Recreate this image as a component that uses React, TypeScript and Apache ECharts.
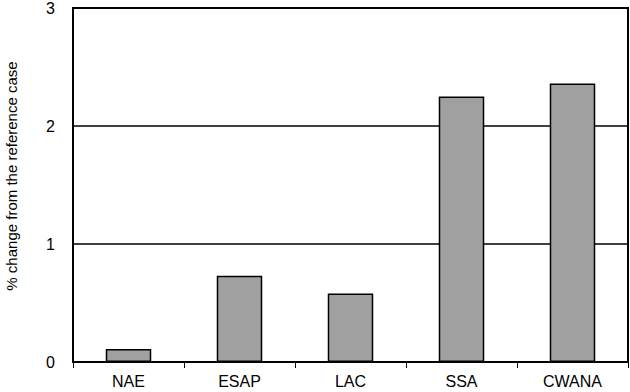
import React, { useEffect, useRef } from "react";
import * as echarts from "echarts";

const categories = ["NAE", "ESAP", "LAC", "SSA", "CWANA"];
const values = [0.11, 0.73, 0.58, 2.25, 2.36];
const yTicks = [0, 1, 2, 3];
const yTitle = "% change from the reference case";

export default function App() {
  const ref = useRef<HTMLDivElement>(null);
  useEffect(() => {
    const chart = echarts.init(ref.current!, null, { renderer: "svg" });
    chart.setOption({
      animation: false,
      backgroundColor: "#ffffff",
      textStyle: { fontFamily: "Liberation Sans, Arial, sans-serif" },
      grid: {
        left: 73,
        right: 2,
        top: 8,
        bottom: 30,
        show: true,
        borderColor: "#000",
        borderWidth: 2,
        backgroundColor: "transparent",
      },
      graphic: [
        {
          type: "text",
          x: 11,
          y: 176,
          rotation: Math.PI / 2,
          style: {
            text: yTitle,
            fill: "#000",
            fontSize: 15,
            fontFamily: "Liberation Sans, Arial, sans-serif",
            align: "center",
            verticalAlign: "middle",
          },
        },
      ],
      xAxis: {
        type: "category",
        data: categories,
        axisLine: { show: true, lineStyle: { color: "#000", width: 2 } },
        axisTick: { show: true, alignWithLabel: false, length: 6, lineStyle: { color: "#000", width: 1 } },
        axisLabel: { color: "#000", fontSize: 16, margin: 11 },
        splitLine: { show: false },
      },
      yAxis: {
        type: "value",
        min: yTicks[0],
        max: yTicks[yTicks.length - 1],
        interval: 1,
        axisLine: { show: true, lineStyle: { color: "#000", width: 2 } },
        axisTick: { show: false },
        axisLabel: { color: "#000", fontSize: 16, margin: 18 },
        splitLine: { show: true, lineStyle: { color: "#000", width: 1.5 } },
      },
      series: [
        {
          type: "bar",
          data: values,
          barWidth: "41%",
          itemStyle: { color: "#a0a0a0", borderColor: "#000", borderWidth: 1.5 },
        },
      ],
    });
    return () => chart.dispose();
  }, []);
  return <div ref={ref} style={{ width: 630, height: 392, position: "absolute", left: 0, top: 0 }} />;
}
